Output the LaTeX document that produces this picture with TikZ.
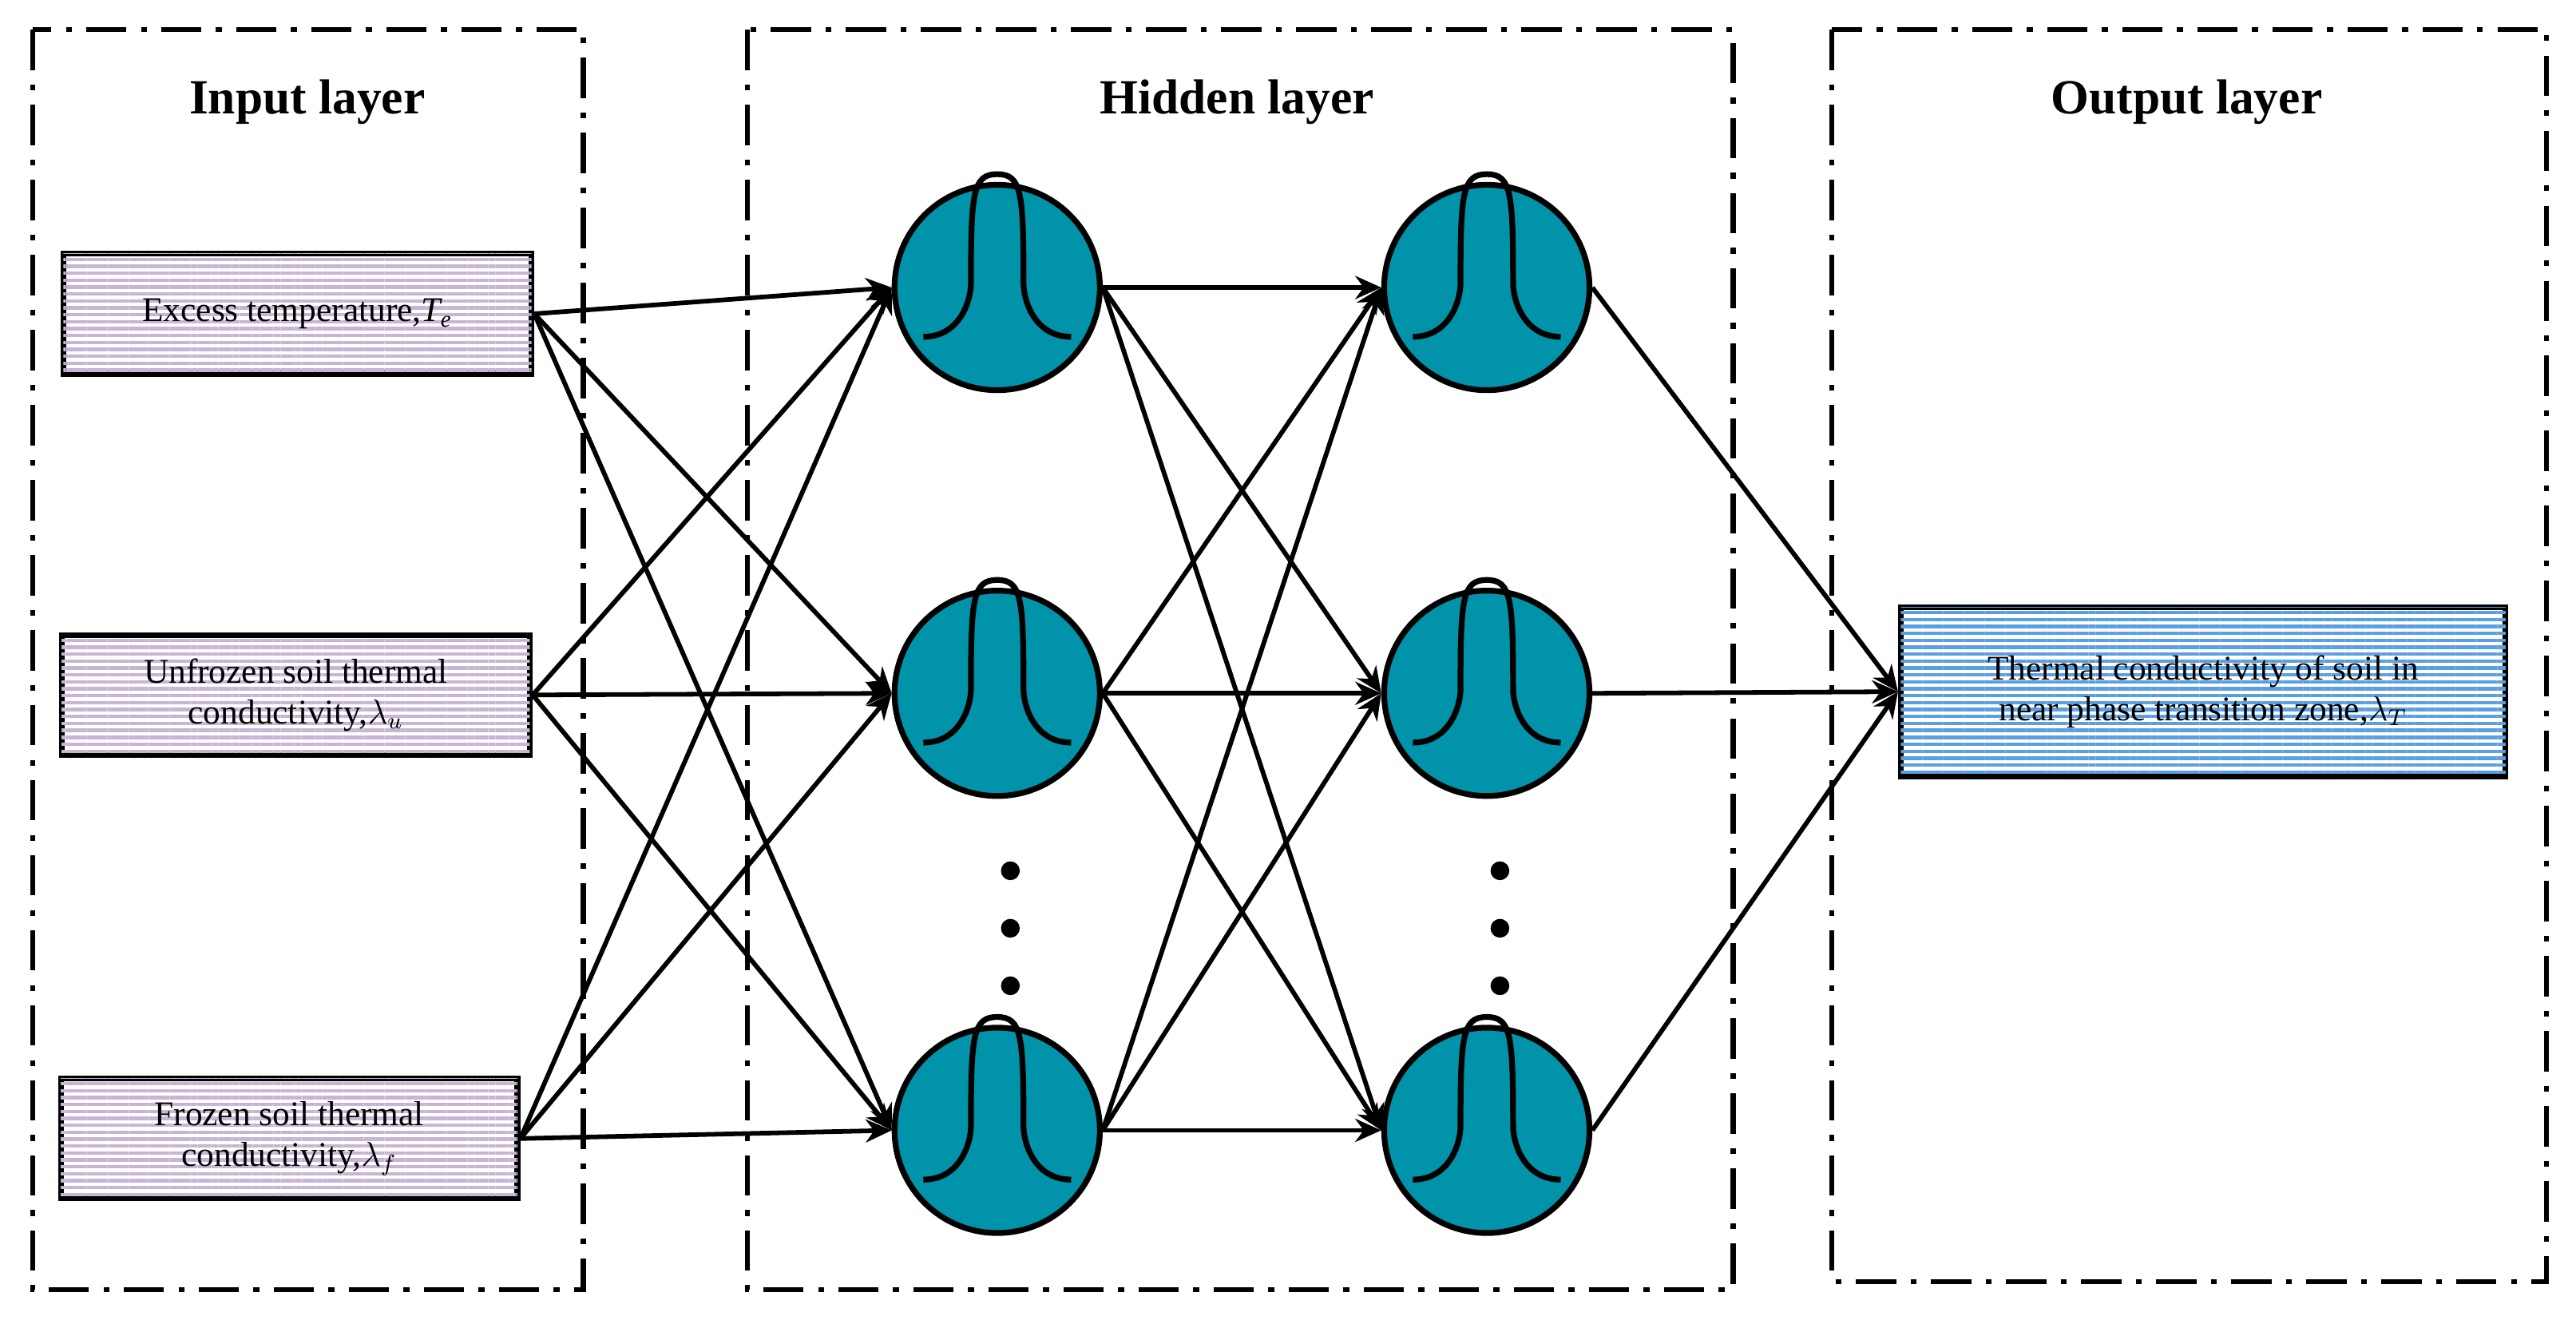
\documentclass[tikz,border=0pt]{standalone}
\usepackage{fontspec}
\setmainfont{Liberation Serif}
\usetikzlibrary{patterns.meta,arrows.meta,positioning}
\definecolor{lav}{RGB}{200,180,212}
\definecolor{skyb}{RGB}{90,160,225}
\definecolor{teal}{RGB}{0,147,170}
\tikzset{
  frame/.style={line width=1.8pt, dash pattern=on 14pt off 5pt on 2pt off 5pt},
  inbox/.style={rectangle, draw, line width=2pt, minimum width=5.7cm, minimum height=1.46cm, align=center, font=\fontsize{12}{14}\selectfont, fill=white, postaction={pattern={Lines[angle=0,distance=2.4pt,line width=1.2pt]}, pattern color=lav}},
  outbox/.style={inbox, minimum width=7.36cm, minimum height=2.06cm, postaction={pattern={Lines[angle=0,distance=2.4pt,line width=1.2pt]}, pattern color=skyb}},
  neuron/.style={circle, draw, line width=2pt, fill=teal, minimum size=2.5cm},
  title/.style={font=\fontsize{17}{20}\selectfont\bfseries},
  link/.style={line width=1.6pt, -{Stealth[length=9pt,width=8pt]}},
  vdot/.style={circle, fill, inner sep=2.3pt}
}
\begin{document}
\begin{tikzpicture}[x=0.02cm,y=-0.02cm]
\useasboundingbox (0,0) rectangle (1568,803);
% frames
\draw[frame] (20,18) rectangle (355,785);
\draw[frame] (455,18) rectangle (1055,785);
\draw[frame] (1115,18) rectangle (1550,780);
\node[title] (tin) at (187,62) {Input layer};
\node[title] (thid) at (753,62) {Hidden layer};
\node[title] (tout) at (1331,62) {Output layer};
% inputs
\node[inbox] (in1) at (181,191) {Excess temperature,\textit{T\textsubscript{e}}};
\node[inbox] (in2) at (180,423) {Unfrozen soil thermal\\conductivity,$\lambda_u$};
\node[inbox, minimum width=5.56cm] (in3) at (176,693) {Frozen soil thermal\\conductivity,$\lambda_f$};
% output
\node[outbox] (out) at (1341,421) {Thermal conductivity of soil in\\near phase transition zone,$\lambda_T$};
% neurons
\foreach \c/\x in {a/607,b/905}{
  \foreach \r/\y in {1/175,2/422,3/688}{
    \node[neuron] (\c\r) at (\x,\y) {};
    \draw[line width=2pt] ([shift={(-0.9cm,-0.6cm)}]\c\r.center)
      .. controls +(0.45cm,0cm) and +(0cm,-0.2cm) .. ++(0.58cm,0.65cm)
      .. controls +(0cm,1.1cm) and +(-0.3cm,0cm) .. ++(0.32cm,1.33cm)
      .. controls +(0.3cm,0cm) and +(0cm,1.1cm) .. ++(0.32cm,-1.33cm)
      .. controls +(0cm,-0.2cm) and +(-0.45cm,0cm) .. ++(0.58cm,-0.65cm);
  }
  \foreach \y in {530,565,600} \node[vdot] at (\x+8,\y) {};
}
% connections
\foreach \i in {1,2,3}{
  \foreach \j in {1,2,3}{
    \draw[link] (in\i.east) -- (a\j.west);
    \draw[link] (a\i.east) -- (b\j.west);
  }
  \draw[link] (b\i.east) -- (out.west);
}
\end{tikzpicture}
\end{document}
